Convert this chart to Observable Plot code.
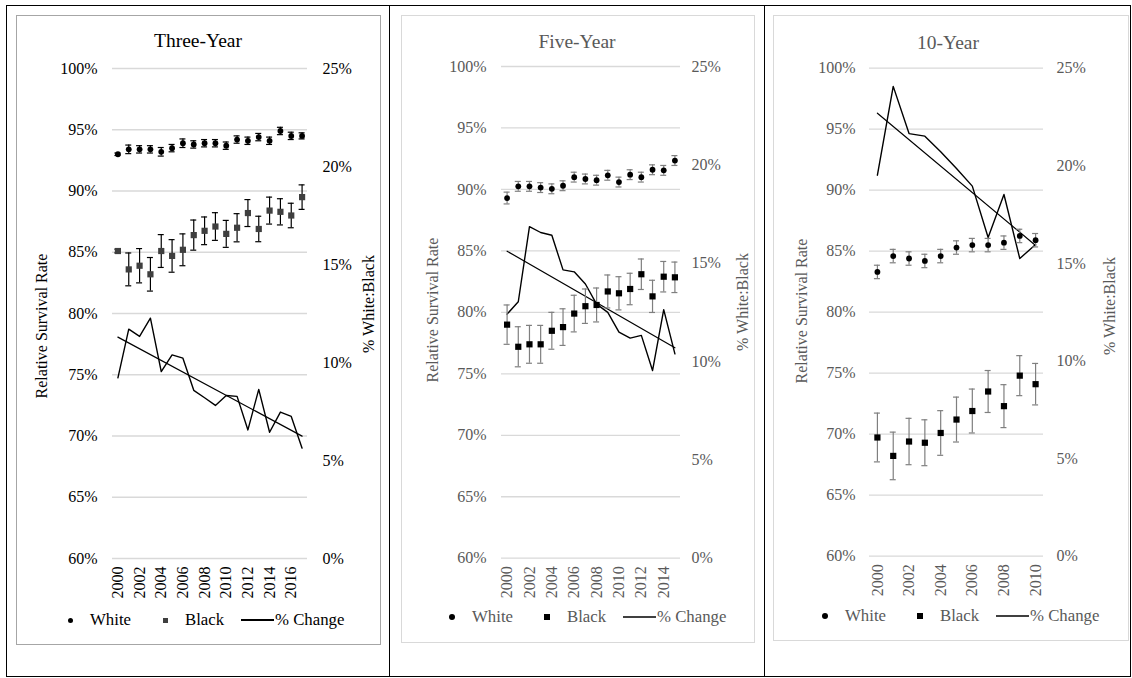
<!DOCTYPE html>
<html><head><meta charset="utf-8">
<script src="https://cdn.jsdelivr.net/npm/d3@7"></script>
<script src="https://cdn.jsdelivr.net/npm/@observablehq/plot@0.6"></script>
<style>
body{margin:0;background:#fff;}
#page{position:relative;width:1132px;height:678px;overflow:hidden;background:#fff;font-family:"Liberation Serif",serif;font-weight:400;}
#page div{font-family:"Liberation Serif",serif;font-weight:400;}
#page svg text{font-family:"Liberation Serif",serif !important;font-weight:400;}
</style></head><body><div id="page"></div>
<script>
// ---------- data ----------
const leftTickValues = [60, 65, 70, 75, 80, 85, 90, 95, 100];
const leftTickLabels = ["60%", "65%", "70%", "75%", "80%", "85%", "90%", "95%", "100%"];
const rightTickValues = [0, 5, 10, 15, 20, 25];
const rightTickLabels = ["0%", "5%", "10%", "15%", "20%", "25%"];
const legendLabels = ["White", "Black", "% Change"];
const leftAxisTitle = "Relative Survival Rate";
const rightAxisTitle = "% White:Black";

const threeTitle = "Three-Year";
const threeYears = [2000,2001,2002,2003,2004,2005,2006,2007,2008,2009,2010,2011,2012,2013,2014,2015,2016,2017];
const threeLabelYears = [2000,2002,2004,2006,2008,2010,2012,2014,2016];
const threeWhite = [93.0,93.4,93.4,93.4,93.2,93.5,93.9,93.8,93.9,93.9,93.7,94.2,94.1,94.4,94.1,94.9,94.5,94.5];
const threeWhiteErr = [0.1,0.35,0.3,0.3,0.35,0.3,0.35,0.3,0.3,0.3,0.3,0.3,0.3,0.3,0.3,0.3,0.3,0.25];
const threeBlack = [85.1,83.6,83.9,83.2,85.1,84.7,85.2,86.4,86.75,87.1,86.5,87.0,88.2,86.9,88.4,88.3,88.0,89.5];
const threeBlackErr = [0.15,1.34,1.4,1.37,1.34,1.33,1.3,1.23,1.13,1.13,1.1,1.15,1.1,1.04,1.1,1.07,1.0,1.0];
const threeChange = [9.22,11.7,11.33,12.26,9.54,10.39,10.22,8.58,8.2,7.81,8.32,8.27,6.56,8.63,6.44,7.47,7.25,5.63];

const fiveTitle = "Five-Year";
const fiveYears = [2000,2001,2002,2003,2004,2005,2006,2007,2008,2009,2010,2011,2012,2013,2014,2015];
const fiveLabelYears = [2000,2002,2004,2006,2008,2010,2012,2014];
const fiveWhite = [89.3,90.25,90.25,90.15,90.05,90.3,91.0,90.85,90.75,91.15,90.6,91.2,91.0,91.6,91.55,92.35];
const fiveWhiteErr = [0.48,0.4,0.4,0.4,0.4,0.4,0.4,0.4,0.4,0.4,0.4,0.4,0.4,0.4,0.4,0.4];
const fiveBlack = [79.0,77.2,77.4,77.4,78.5,78.8,79.9,80.5,80.6,81.7,81.55,81.9,83.1,81.3,82.9,82.85];
const fiveBlackErr = [1.6,1.63,1.54,1.54,1.5,1.49,1.49,1.4,1.38,1.34,1.35,1.28,1.24,1.31,1.24,1.24];
const fiveChange = [12.41,13.04,16.86,16.56,16.42,14.66,14.56,13.94,12.92,12.5,11.49,11.19,11.33,9.54,12.64,10.39];

const tenTitle = "10-Year";
const tenYears = [2000,2001,2002,2003,2004,2005,2006,2007,2008,2009,2010];
const tenLabelYears = [2000,2002,2004,2006,2008,2010];
const tenWhite = [83.3,84.6,84.4,84.2,84.6,85.3,85.5,85.5,85.7,86.25,85.9];
const tenWhiteErr = [0.55,0.55,0.55,0.55,0.55,0.55,0.55,0.55,0.55,0.55,0.55];
const tenBlack = [69.73,68.22,69.4,69.3,70.1,71.2,71.9,73.5,72.3,74.8,74.1];
const tenBlackErr = [2.0,1.95,1.9,1.88,1.83,1.84,1.8,1.72,1.76,1.64,1.7];
const tenChange = [19.52,24.07,21.65,21.52,20.72,19.86,18.96,16.33,18.53,15.25,15.97];

// ---------- helpers ----------
const page = document.getElementById("page");
function el(css, text) {
  const e = document.createElement("div");
  e.style.cssText = "position:absolute;" + css;
  if (text != null) e.textContent = text;
  page.appendChild(e);
  return e;
}
// right axis (% White:Black, 0–25%) shares the 60–100% frame
const toLeft = r => 60 + r * (40 / 25);
const rightPositions = rightTickValues.map(toLeft);

// outer table borders
el("left:6px;top:5px;width:1125px;height:672px;border:1px solid #000;box-sizing:border-box;");
el("left:389px;top:5px;width:1px;height:672px;background:#000;");
el("left:764px;top:5px;width:1px;height:672px;background:#000;");

function panel(p) {
  // chart box
  el(`left:${p.box.l}px;top:${p.box.t}px;width:${p.box.r - p.box.l}px;height:${p.box.b - p.box.t}px;border:1px solid ${p.boxColor};box-sizing:border-box;background:#fff;`);

  const rows = p.years.map((year, i) => ({
    year,
    white: p.white[i], wLo: p.white[i] - p.whiteErr[i], wHi: p.white[i] + p.whiteErr[i],
    black: p.black[i], bLo: p.black[i] - p.blackErr[i], bHi: p.black[i] + p.blackErr[i],
    change: toLeft(p.change[i])
  }));
  const svgLeft = p.box.l, width = p.box.r - p.box.l, height = 678;
  const cap = {insetLeft: -3, insetRight: -3, stroke: p.errColor, strokeWidth: 1.2};
  const chart = Plot.plot({
    width, height,
    marginLeft: p.x0 - svgLeft,
    marginRight: svgLeft + width - p.x1,
    marginTop: p.y0,
    marginBottom: height - p.y1,
    style: {fontFamily: '"Liberation Serif", serif', fontSize: "16px", color: p.text, background: "transparent", overflow: "visible"},
    x: {domain: [p.years[0] - 0.5, p.years[p.years.length - 1] + 0.5]},
    y: {domain: [60, 100]},
    marks: [
      Plot.gridY(leftTickValues, {stroke: "#d9d9d9", strokeOpacity: 1, strokeWidth: 1.3}),
      Plot.axisY(leftTickValues, {anchor: "left", tickSize: 0, tickPadding: p.padL, label: null,
        tickFormat: d => leftTickLabels[leftTickValues.indexOf(d)]}),
      Plot.axisY(rightPositions, {anchor: "right", tickSize: 0, tickPadding: p.padR, label: null,
        tickFormat: d => rightTickLabels[rightPositions.indexOf(d)]}),
      Plot.axisX(p.labelYears, {anchor: "bottom", tickSize: 0, tickRotate: -90, tickPadding: 8, label: null,
        tickFormat: d => String(d)}),
      Plot.line(rows, {x: "year", y: "change", stroke: "#000", strokeWidth: 1.4}),
      Plot.linearRegressionY(rows, {x: "year", y: "change", stroke: "#000", strokeWidth: 1.2, ci: 0}),
      Plot.ruleX(rows, {x: "year", y1: "wLo", y2: "wHi", stroke: p.errColor, strokeWidth: 1.2}),
      Plot.ruleY(rows, {y: "wLo", x1: "year", x2: "year", ...cap}),
      Plot.ruleY(rows, {y: "wHi", x1: "year", x2: "year", ...cap}),
      Plot.ruleX(rows, {x: "year", y1: "bLo", y2: "bHi", stroke: p.errColor, strokeWidth: 1.2}),
      Plot.ruleY(rows, {y: "bLo", x1: "year", x2: "year", ...cap}),
      Plot.ruleY(rows, {y: "bHi", x1: "year", x2: "year", ...cap}),
      Plot.dot(rows, {x: "year", y: "white", r: 2.9, fill: "#000", stroke: "none"}),
      Plot.dot(rows, {x: "year", y: "black", symbol: "square", r: 3.5, fill: p.squareColor, stroke: "none"})
    ]
  });
  chart.style.position = "absolute";
  chart.style.left = svgLeft + "px";
  chart.style.top = "0px";
  chart.style.maxWidth = "none";
  page.appendChild(chart);

  // title
  el(`left:${p.title.x}px;top:${p.title.y}px;transform:translate(-50%,-50%);font-size:19.5px;line-height:1;color:${p.text};white-space:nowrap;`, p.title.text);
  // axis titles
  el(`left:${p.lt.x}px;top:${p.lt.y}px;transform:translate(-50%,-50%) rotate(-90deg);font-size:16px;line-height:1;color:${p.text};white-space:nowrap;`, leftAxisTitle);
  el(`left:${p.rt.x}px;top:${p.rt.y}px;transform:translate(-50%,-50%) rotate(-90deg);font-size:16px;line-height:1;color:${p.text};white-space:nowrap;`, rightAxisTitle);

  // legend
  const x0 = p.legend.x, y = p.legend.y;
  const s = p.legend.mark;
  el(`left:${x0 - s / 2}px;top:${y - s / 2}px;width:${s}px;height:${s}px;border-radius:50%;background:#000;`);
  el(`left:${x0 + 20}px;top:${y}px;transform:translateY(-50%);font-size:16.8px;line-height:1;color:${p.text};white-space:nowrap;`, legendLabels[0]);
  el(`left:${x0 + 95 - s / 2}px;top:${y - s / 2}px;width:${s}px;height:${s}px;background:${p.squareColor};`);
  el(`left:${x0 + 115}px;top:${y}px;transform:translateY(-50%);font-size:16.8px;line-height:1;color:${p.text};white-space:nowrap;`, legendLabels[1]);
  el(`left:${x0 + 171}px;top:${y - 0.75}px;width:33px;height:1.5px;background:${p.legendLine};`);
  el(`left:${x0 + 205}px;top:${y}px;transform:translateY(-50%);font-size:16.8px;line-height:1;color:${p.text};white-space:nowrap;`, legendLabels[2]);
}

panel({
  box: {l: 16, t: 15, r: 381, b: 645}, boxColor: "#a6a6a6",
  x0: 112, x1: 307, y0: 68, y1: 558, padL: 15, padR: 15,
  years: threeYears, labelYears: threeLabelYears,
  white: threeWhite, whiteErr: threeWhiteErr, black: threeBlack, blackErr: threeBlackErr, change: threeChange,
  text: "#000", errColor: "#000", squareColor: "#3f3f3f", legendLine: "#000",
  title: {text: threeTitle, x: 198, y: 41},
  lt: {x: 42, y: 326}, rt: {x: 369, y: 304},
  legend: {x: 70, y: 620, mark: 5}
});
panel({
  box: {l: 401, t: 15, r: 755, b: 643}, boxColor: "#d9d9d9",
  x0: 501, x1: 680, y0: 66, y1: 557.7, padL: 15, padR: 11,
  years: fiveYears, labelYears: fiveLabelYears,
  white: fiveWhite, whiteErr: fiveWhiteErr, black: fiveBlack, blackErr: fiveBlackErr, change: fiveChange,
  text: "#595959", errColor: "#7f7f7f", squareColor: "#000", legendLine: "#404040",
  title: {text: fiveTitle, x: 577, y: 42},
  lt: {x: 433, y: 310}, rt: {x: 743, y: 302},
  legend: {x: 452, y: 617, mark: 6}
});
panel({
  box: {l: 773, t: 15, r: 1129, b: 641}, boxColor: "#d9d9d9",
  x0: 869, x1: 1043, y0: 67.7, y1: 555.7, padL: 14, padR: 13,
  years: tenYears, labelYears: tenLabelYears,
  white: tenWhite, whiteErr: tenWhiteErr, black: tenBlack, blackErr: tenBlackErr, change: tenChange,
  text: "#595959", errColor: "#7f7f7f", squareColor: "#000", legendLine: "#404040",
  title: {text: tenTitle, x: 948, y: 43},
  lt: {x: 802, y: 311}, rt: {x: 1110, y: 306},
  legend: {x: 825, y: 616, mark: 6}
});
</script></body></html>
